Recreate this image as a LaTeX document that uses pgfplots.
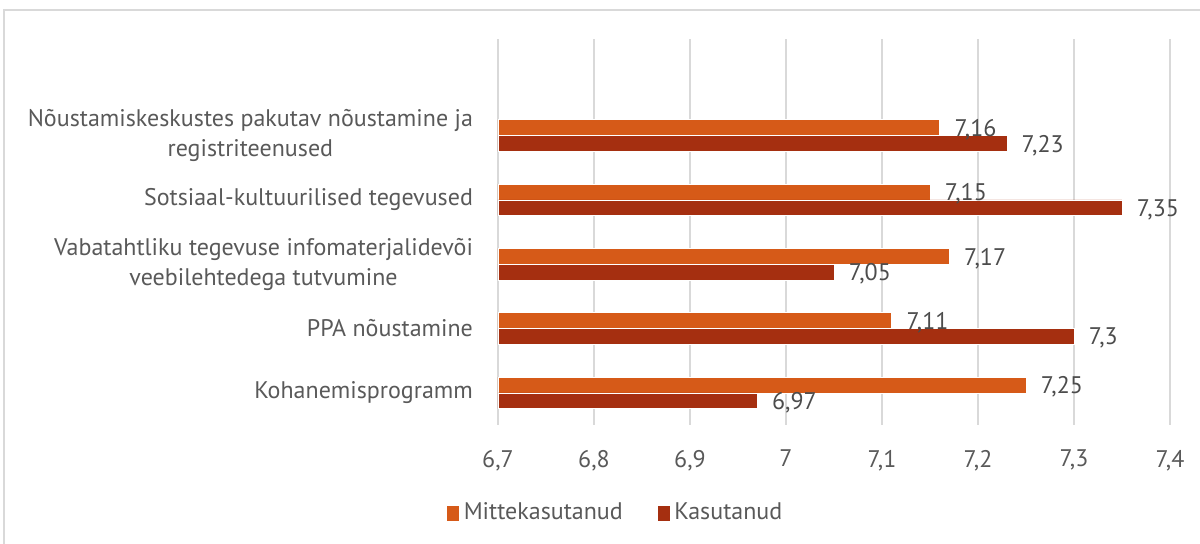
\documentclass[border=0pt]{standalone}
\usepackage{fontspec}
\setmainfont{PT Sans}
\usepackage{pgfplots}
\pgfplotsset{compat=1.18}
\definecolor{orangebar}{HTML}{D65A18}
\definecolor{redbar}{HTML}{A52F10}
\definecolor{txt}{HTML}{595959}
\definecolor{gridc}{HTML}{D9D9D9}
\newcommand{\chartfont}{\fontsize{12}{15}\selectfont}
\begin{document}
\begin{tikzpicture}
\useasboundingbox (-249pt,-59.5pt) rectangle (351pt,212.5pt);
\draw[gridc, line width=0.6pt] (-247pt,207.5pt) rectangle (380pt,-80pt);
\begin{axis}[
  at={(0,0)}, anchor=south west,
  scale only axis, width=336pt, height=193pt,
  xbar, bar width=0.245,
  xmin=6.7, xmax=7.4, ymin=-0.5, ymax=5.5,
  xtick={6.7,6.8,6.9,7.0,7.1,7.2,7.3,7.4},
  ytick={0,1,2,3,4},
  yticklabels={{Kohanemisprogramm},{PPA nõustamine},{Vabatahtliku tegevuse infomaterjalidevõi\\veebilehtedega tutvumine},{Sotsiaal-kultuurilised tegevused},{Nõustamiskeskustes pakutav nõustamine ja\\registriteenused}},
  yticklabel style={align=center, font=\chartfont, text=txt, xshift=-9pt},
  xticklabel style={font=\chartfont, text=txt, yshift=-9pt},
  /pgf/number format/assume math mode=true,
  /pgf/number format/use comma,
  axis line style={draw=none},
  major tick length=0pt,
  xmajorgrids, grid style={gridc, line width=0.6pt},
  clip=false,
  point meta=x,
  nodes near coords,
  every node near coord/.append style={anchor=west, font=\chartfont, text=txt!85!black, xshift=4pt, yshift=-1pt},
  legend style={at={(0.176,-0.228)}, anchor=center, draw=none, fill=none, font=\chartfont, text=txt, legend columns=2,
    /tikz/every even column/.append style={column sep=15pt}},
  legend image code/.code={\fill[#1] (0pt,-4pt) rectangle (6.5pt,4pt);},
]
\addplot[fill=orangebar, draw=white, line width=0.25pt, bar shift=0.1225] coordinates {(7.25,0) (7.11,1) (7.17,2) (7.15,3) (7.16,4)};
\addplot[fill=redbar, draw=white, line width=0.25pt, bar shift=-0.1225] coordinates {(6.97,0) (7.30,1) (7.05,2) (7.35,3) (7.23,4)};
\legend{Mittekasutanud, Kasutanud}
\end{axis}
\end{tikzpicture}
\end{document}
